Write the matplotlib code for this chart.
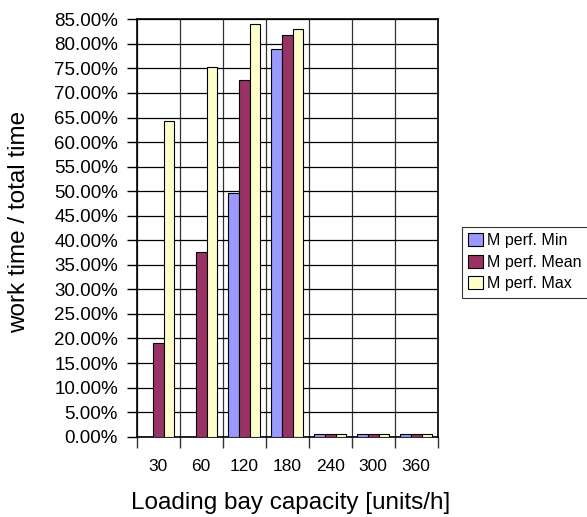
import numpy as np
import matplotlib
matplotlib.use("Agg")
import matplotlib.pyplot as plt
from matplotlib.ticker import FuncFormatter, MultipleLocator

plt.rcParams['font.family'] = ['Liberation Sans', 'DejaVu Sans']

capacity = ["30", "60", "120", "180", "240", "300", "360"]
perf_min = [0.0, 0.0, 49.6, 78.9, 0.5, 0.5, 0.5]
perf_mean = [19.0, 37.7, 72.6, 81.9, 0.5, 0.5, 0.5]
perf_max = [64.2, 75.2, 84.1, 83.1, 0.5, 0.5, 0.5]
series_names = ["M perf. Min", "M perf. Mean", "M perf. Max"]
colors = ["#9999FF", "#993366", "#FFFFCC"]

fig = plt.figure(figsize=(5.87, 5.17), dpi=100)
ax = fig.add_axes([0.2329, 0.1553, 0.5128, 0.8074])

x = np.arange(len(capacity))
w = 0.25
for i, (vals, name, c) in enumerate(zip([perf_min, perf_mean, perf_max], series_names, colors)):
    ax.bar(x + (i - 1) * w, vals, width=w, color=c, edgecolor="black",
           linewidth=0.8, label=name, zorder=3)

ax.set_xlim(-0.5, len(capacity) - 0.5)
ax.set_ylim(0, 85)
ax.yaxis.set_major_locator(MultipleLocator(5))
ax.yaxis.set_major_formatter(FuncFormatter(lambda v, p: "%.2f%%" % v))

# category labels centred, ticks and vertical grid on the boundaries
ax.set_xticks(x)
ax.set_xticklabels(capacity)
ax.set_xticks(np.arange(-0.5, len(capacity)), minor=True)
ax.tick_params(axis="x", which="major", length=0, pad=16, labelsize=12.5)
ax.tick_params(axis="x", which="minor", length=8, width=1, color="#333333")
ax.tick_params(axis="y", length=7.5, width=1, labelsize=13.5, pad=6)

ax.grid(axis="y", which="major", color="black", linewidth=0.9, zorder=0)
ax.grid(axis="x", which="minor", color="#333333", linewidth=0.9, zorder=0)
for s in ax.spines.values():
    s.set_linewidth(1.2)
    s.set_color("black")

ax.set_ylabel("work time / total time", fontsize=17.5, va="center")
ax.set_xlabel("Loading bay capacity [units/h]", fontsize=17.5, va="center")
ax.yaxis.set_label_coords(-0.39, 0.515)
ax.xaxis.set_label_coords(0.51, -0.16)

leg = ax.legend(loc="center left", bbox_to_anchor=(1.08, 0.418), fontsize=11.5,
                frameon=True, fancybox=False, edgecolor="black",
                handlelength=0.9, handleheight=0.9, handletextpad=0.3,
                labelspacing=0.4, borderpad=0.4, borderaxespad=0)
leg.get_frame().set_linewidth(0.8)

fig.savefig("out.png", dpi=100)
